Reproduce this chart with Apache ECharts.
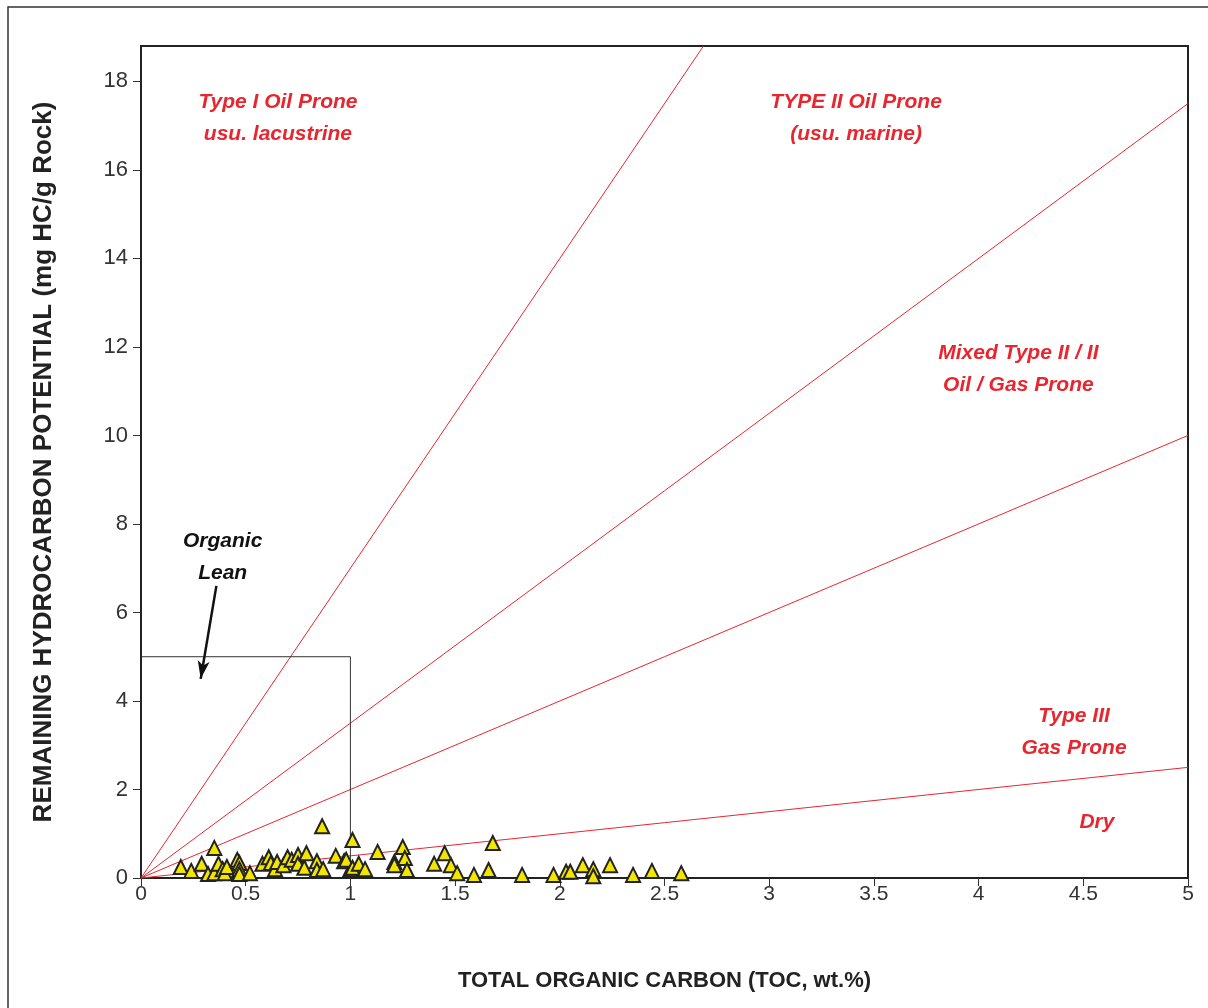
<!DOCTYPE html>
<html>
<head>
<meta charset="utf-8">
<script src="https://cdn.jsdelivr.net/npm/echarts@6/dist/echarts.min.js"></script>
<style>
  html, body { margin: 0; padding: 0; background: #fff; }
  #chart { width: 1208px; height: 1008px; }
</style>
</head>
<body>
<div id="chart"></div>
<script>
// samples: TOC (wt.%) and S2 (mg HC/g rock)
var tocValues = [0.19, 0.24, 0.29, 0.32, 0.35, 0.35, 0.37, 0.39, 0.40, 0.41, 0.46, 0.47, 0.47, 0.47, 0.52,
  0.58, 0.61, 0.62, 0.64, 0.65, 0.68, 0.70, 0.72, 0.75, 0.75, 0.78, 0.79, 0.84, 0.84, 0.87, 0.865, 0.93, 0.97, 1.00,
  1.01, 0.98, 1.01, 1.04, 1.07, 1.13, 1.21, 1.21, 1.25, 1.26, 1.27, 1.40, 1.45,
  1.48, 1.51, 1.68, 1.59, 1.66, 1.82,
  1.97, 2.03, 2.05, 2.11, 2.16, 2.16, 2.24, 2.35, 2.44, 2.58];
var s2Values = [0.25, 0.16, 0.32, 0.09, 0.68, 0.11, 0.32, 0.20, 0.11, 0.25, 0.41, 0.34, 0.20, 0.09, 0.11,
  0.32, 0.47, 0.34, 0.20, 0.36, 0.29, 0.47, 0.41, 0.52, 0.32, 0.23, 0.56, 0.38, 0.18, 0.20, 1.17, 0.50, 0.38, 0.20,
  0.86, 0.41, 0.23, 0.32, 0.20, 0.59, 0.36, 0.29, 0.70, 0.45, 0.18, 0.32, 0.56,
  0.29, 0.11, 0.79, 0.07, 0.18, 0.07,
  0.07, 0.14, 0.14, 0.29, 0.20, 0.04, 0.29, 0.07, 0.16, 0.11];

// kerogen type boundaries (HI = 700, 350, 200, 50)
var typeILine = [[0, 0], [2.686, 18.8]];
var typeIILine = [[0, 0], [5, 17.5]];
var mixedLine = [[0, 0], [5, 10]];
var typeIIILine = [[0, 0], [5, 2.5]];
var leanBox = [[0, 5], [1, 5], [1, 0]];
var leanArrow = [[0.36, 6.6], [0.285, 4.5]];

var xTicks = [0, 0.5, 1, 1.5, 2, 2.5, 3, 3.5, 4, 4.5, 5];
var yTicks = [0, 2, 4, 6, 8, 10, 12, 14, 16, 18];

var zoneLabels = [
  { value: [0.654, 17.16], text: 'Type I Oil Prone\nusu. lacustrine', color: '#e8262f' },
  { value: [3.415, 17.16], text: 'TYPE II Oil Prone\n(usu. marine)', color: '#e8262f' },
  { value: [4.19, 11.5], text: 'Mixed Type II / II\nOil / Gas Prone', color: '#e8262f' },
  { value: [4.456, 3.3], text: 'Type III\nGas Prone', color: '#e8262f' },
  { value: [4.565, 1.26], text: 'Dry', color: '#e8262f' },
  { value: [0.39, 7.25], text: 'Organic\nLean', color: '#111' }
];

var points = tocValues.map(function (t, i) { return [t, s2Values[i]]; });

function redLine(data) {
  return {
    type: 'line', data: data, symbol: 'none', silent: true, z: 2,
    lineStyle: { color: '#e8262f', width: 1 }
  };
}

var chart = echarts.init(document.getElementById('chart'));
chart.setOption({
  animation: false,
  backgroundColor: '#fff',
  textStyle: { fontFamily: 'Liberation Sans, Arial, sans-serif' },
  graphic: [
    { type: 'polyline', shape: { points: [[8, 1008], [8, 7], [1208, 7]] },
      style: { stroke: '#333', lineWidth: 1.5, fill: null } }
  ],
  grid: { left: 141, top: 46, right: 20, bottom: 130, show: true, borderColor: '#222', borderWidth: 2 },
  xAxis: {
    type: 'value', min: 0, max: 5, interval: 0.5,
    name: 'TOTAL ORGANIC CARBON (TOC, wt.%)', nameLocation: 'middle', nameGap: 92,
    nameTextStyle: { fontSize: 22, fontWeight: 'bold', color: '#222' },
    axisLine: { lineStyle: { color: '#222', width: 2 } },
    axisTick: { length: 8, lineStyle: { color: '#333' }, customValues: xTicks },
    axisLabel: { fontSize: 21, color: '#333', margin: 6, customValues: xTicks },
    splitLine: { show: false }
  },
  yAxis: {
    type: 'value', min: 0, max: 18.8, interval: 2,
    name: 'REMAINING HYDROCARBON POTENTIAL (mg HC/g Rock)', nameLocation: 'middle', nameGap: 84, nameRotate: 90,
    nameTextStyle: { fontSize: 26, fontWeight: 'bold', color: '#222' },
    axisLine: { lineStyle: { color: '#222', width: 2 } },
    axisTick: { length: 8, lineStyle: { color: '#333' }, customValues: yTicks },
    axisLabel: { fontSize: 22, color: '#333', margin: 13, customValues: yTicks },
    splitLine: { show: false }
  },
  series: [
    redLine(typeILine), redLine(typeIILine), redLine(mixedLine), redLine(typeIIILine),
    {
      type: 'line', data: leanBox, symbol: 'none', silent: true, z: 2,
      lineStyle: { color: '#333', width: 1 },
      markLine: {
        silent: true, symbol: ['none', 'arrow'], symbolSize: [9, 18],
        lineStyle: { color: '#111', width: 2.5, type: 'solid' },
        label: { show: false },
        data: [[{ coord: leanArrow[0] }, { coord: leanArrow[1] }]]
      }
    },
    {
      type: 'scatter', data: points, symbol: 'triangle', symbolSize: 14, z: 5,
      itemStyle: { color: '#f2e600', borderColor: '#222', borderWidth: 2, opacity: 1 }
    },
    {
      type: 'scatter', symbolSize: 0, silent: true, z: 6,
      itemStyle: { opacity: 1 },
      data: zoneLabels.map(function (d) {
        return {
          value: d.value,
          label: {
            show: true, position: 'inside', formatter: d.text, color: d.color,
            fontSize: 21, fontWeight: 'bold', fontStyle: 'italic', lineHeight: 32, align: 'center'
          }
        };
      })
    }
  ]
});
</script>
</body>
</html>
